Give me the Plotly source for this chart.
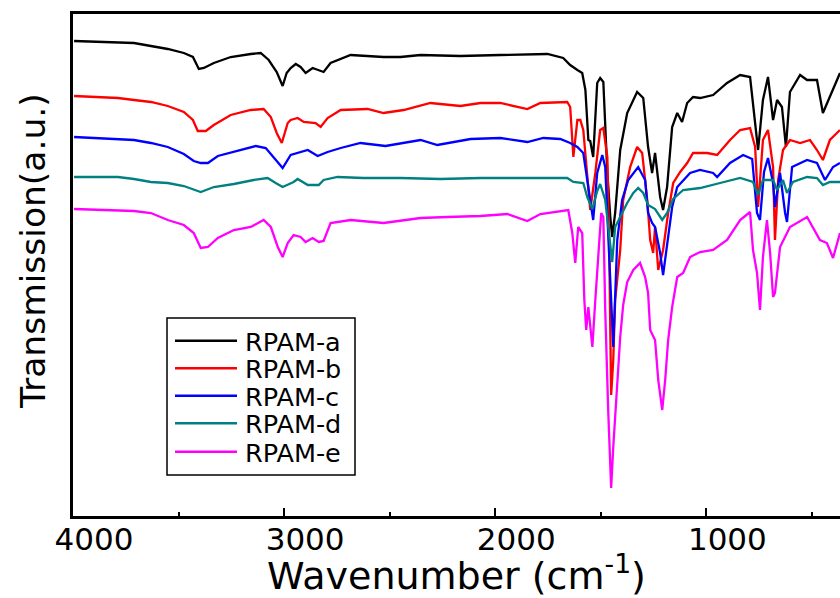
import plotly.graph_objects as go

# ---------------- data ----------------
series_names = ["RPAM-a", "RPAM-b", "RPAM-c", "RPAM-d", "RPAM-e"]
series_colors = ["#000000", "#FF0000", "#0000FF", "#008080", "#FF00FF"]

wn_a = [3995, 3868, 3787, 3711, 3631, 3551, 3475, 3432, 3404, 3380, 3333, 3253, 3158, 3111, 3073,
        3035, 3007, 2988, 2969, 2945, 2922, 2898, 2865, 2836, 2813, 2780, 2685, 2529, 2449, 2354,
        2165, 1976, 1753, 1678, 1645, 1611, 1588, 1573, 1559, 1550, 1536, 1517, 1503, 1488, 1469,
        1455, 1446, 1432, 1408, 1375, 1328, 1299, 1276, 1257, 1243, 1219, 1205, 1186, 1162, 1138,
        1115, 1091, 1063, 1030, 968, 902, 840, 793, 769, 755, 732, 708, 684, 665, 642, 623, 604,
        556, 523, 476, 448, 415, 367]
t_a = [476, 475, 474, 474, 471, 468, 464, 460, 448, 449, 454, 460, 463, 464, 457,
       445, 431, 444, 449, 453, 450, 444, 449, 447, 445, 454, 462, 460, 460, 462,
       461, 462, 463, 459, 452, 447, 444, 427, 377, 376, 360, 434, 439, 435, 344,
       300, 280, 304, 367, 404, 425, 419, 370, 344, 364, 320, 307, 330, 390, 404,
       395, 414, 420, 419, 422, 434, 442, 440, 394, 367, 417, 440, 397, 417, 410, 370, 425,
       442, 437, 437, 404, 420, 444]

wn_b = [3995, 3787, 3711, 3631, 3551, 3475, 3432, 3409, 3371, 3333, 3253, 3158, 3097, 3063, 3035,
        3011, 2983, 2969, 2936, 2907, 2851, 2827, 2794, 2732, 2605, 2529, 2434, 2307, 2165, 2070,
        1976, 1848, 1786, 1659, 1645, 1630, 1611, 1597, 1583, 1564, 1550, 1526, 1503, 1488, 1469,
        1460, 1451, 1441, 1432, 1408, 1394, 1361, 1328, 1304, 1280, 1266, 1252, 1243, 1228, 1205,
        1181, 1157, 1124, 1091, 1063, 996, 949, 888, 840, 793, 769, 755, 732, 708, 684, 675, 660,
        637, 604, 556, 509, 476, 448, 415, 367]
t_b = [421, 419, 417, 415, 411, 405, 397, 386, 386, 392, 402, 407, 408, 400, 384,
       374, 394, 397, 399, 395, 394, 390, 399, 407, 408, 404, 407, 414, 411, 414,
       414, 408, 414, 415, 410, 360, 397, 397, 387, 337, 307, 344, 387, 389, 360,
       267, 122, 157, 217, 267, 317, 350, 370, 364, 317, 277, 264, 290, 247, 267,
       304, 334, 345, 354, 364, 364, 362, 377, 387, 389, 370, 310, 377, 387, 350, 277, 337,
       367, 377, 374, 377, 367, 357, 377, 387]

wn_c = [3995, 3787, 3711, 3631, 3551, 3475, 3428, 3395, 3361, 3314, 3238, 3134, 3087, 3049, 3007,
        2969, 2922, 2888, 2841, 2794, 2732, 2638, 2520, 2354, 2274, 2117, 1976, 1848, 1772, 1692,
        1645, 1611, 1583, 1573, 1550, 1536, 1517, 1493, 1479, 1465, 1451, 1441, 1422, 1399, 1370,
        1323, 1290, 1276, 1257, 1243, 1219, 1205, 1186, 1162, 1138, 1077, 1030, 968, 949, 888,
        826, 783, 760, 746, 727, 708, 684, 675, 651, 627, 618, 594, 523, 476, 438, 400, 367]
t_c = [380, 378, 377, 374, 370, 363, 356, 354, 354, 361, 365, 371, 369, 360, 349,
       362, 365, 367, 361, 365, 369, 374, 371, 377, 372, 378, 379, 375, 379, 378,
       374, 370, 364, 350, 314, 297, 344, 362, 350, 290, 217, 170, 277, 317, 337,
       350, 337, 304, 294, 290, 264, 242, 270, 310, 330, 344, 347, 344, 340, 354,
       362, 358, 304, 297, 345, 359, 334, 310, 344, 304, 295, 350, 357, 354, 337, 350, 354]

wn_d = [3995, 3787, 3711, 3631, 3551, 3475, 3409, 3395, 3333, 3238, 3144, 3078, 3040, 3007, 2955,
        2936, 2888, 2836, 2813, 2747, 2624, 2449, 2259, 2070, 1881, 1659, 1630, 1583, 1564, 1540,
        1517, 1503, 1479, 1455, 1446, 1432, 1408, 1375, 1346, 1323, 1299, 1276, 1243, 1209, 1186,
        1157, 1110, 1030, 935, 840, 779, 755, 732, 684, 665, 637, 618, 590, 523, 476, 448, 415, 367]
t_d = [340, 340, 338, 335, 334, 331, 326, 325, 330, 333, 337, 339, 334, 330, 335,
       338, 332, 332, 337, 340, 339, 339, 338, 339, 339, 339, 335, 334, 320, 308,
       326, 333, 317, 270, 255, 290, 300, 314, 324, 329, 324, 312, 308, 297, 304,
       318, 327, 329, 334, 339, 335, 322, 337, 337, 327, 337, 324, 335, 340, 339, 332, 335, 335]

wn_e = [3995, 3787, 3711, 3631, 3551, 3475, 3428, 3395, 3361, 3314, 3238, 3158, 3097, 3063, 3030,
        3007, 2983, 2955, 2922, 2898, 2865, 2836, 2813, 2780, 2685, 2529, 2354, 2226, 2070, 1942,
        1848, 1786, 1654, 1635, 1621, 1607, 1588, 1578, 1569, 1559, 1540, 1526, 1512, 1498, 1488,
        1479, 1465, 1451, 1441, 1422, 1408, 1394, 1375, 1346, 1314, 1290, 1276, 1266, 1243, 1228,
        1209, 1195, 1181, 1162, 1138, 1110, 1077, 1030, 968, 902, 840, 793, 779, 760, 746, 732,
        713, 698, 684, 675, 660, 651, 604, 523, 462, 429, 400, 367]
t_e = [308, 307, 306, 304, 297, 292, 284, 269, 270, 279, 287, 290, 297, 290, 270,
       260, 274, 282, 280, 275, 279, 275, 276, 294, 297, 294, 299, 300, 301, 303,
       296, 303, 307, 284, 254, 290, 284, 217, 187, 210, 170, 217, 264, 304, 300,
       207, 107, 29, 70, 134, 180, 212, 235, 247, 254, 240, 224, 187, 177, 137,
       107, 137, 177, 210, 240, 244, 260, 265, 267, 277, 297, 305, 267, 244, 207, 260,
       297, 264, 220, 224, 257, 270, 290, 300, 277, 274, 259, 284]

x_tick_vals = [1000, 2000, 3000, 4000]
x_tick_text = ["1000", "2000", "3000", "4000"]
x_title = "Wavenumber (cm<sup>-1</sup>)"
y_title = "Transmission(a.u.)"

# ---------------- figure ----------------
xs = [wn_a, wn_b, wn_c, wn_d, wn_e]
ys = [t_a, t_b, t_c, t_d, t_e]

W, H = 840, 598
L, R, T, B = 73, 0, 14, 82
pw, ph = W - L - R, H - T - B


def px_x(px):
    return (px - L) / pw


def px_y(py):
    return (H - B - py) / ph


fig = go.Figure()
for name, color, x, y in zip(series_names, series_colors, xs, ys):
    fig.add_trace(go.Scatter(x=x, y=y, mode="lines", name=name, showlegend=False,
                             line=dict(color=color, width=2.3)))

# legend drawn as a framed box with line samples and labels
shapes = [dict(type="rect", xref="paper", yref="paper",
               x0=px_x(167), x1=px_x(355), y0=px_y(475), y1=px_y(318),
               line=dict(color="black", width=1.5), fillcolor="white", layer="above")]
annotations = []
leg_rows = [340.7, 368.3, 395.7, 423.3, 451.7]
for name, color, ry in zip(series_names, series_colors, leg_rows):
    shapes.append(dict(type="line", xref="paper", yref="paper",
                       x0=px_x(175), x1=px_x(237), y0=px_y(ry), y1=px_y(ry),
                       line=dict(color=color, width=2.5), layer="above"))
    annotations.append(dict(text=name, xref="paper", yref="paper",
                            x=px_x(243), y=px_y(ry + 1), xanchor="left", yanchor="middle",
                            showarrow=False,
                            font=dict(family="DejaVu Sans", size=25.5, color="black")))

# y-axis title
annotations.append(dict(text=y_title, xref="paper", yref="paper",
                        x=px_x(33), y=px_y(251), xanchor="center", yanchor="middle",
                        textangle=-90, showarrow=False,
                        font=dict(family="DejaVu Sans", size=34.5, color="black")))

fig.update_layout(
    width=W, height=H,
    margin=dict(l=L, r=R, t=T, b=B, pad=0, autoexpand=False),
    paper_bgcolor="white", plot_bgcolor="white",
    font=dict(family="DejaVu Sans", color="black"),
    showlegend=False,
    shapes=shapes, annotations=annotations,
)
fig.update_xaxes(
    range=[4000, 367], showgrid=False, zeroline=False, automargin=False,
    showline=True, linecolor="black", linewidth=2.5, mirror=True,
    ticks="inside", ticklen=8, tickwidth=2, tickcolor="black",
    tickvals=x_tick_vals, ticktext=x_tick_text, ticklabelshift=-21, ticklabelstandoff=-6,
    tickfont=dict(family="DejaVu Sans", size=31, color="black"),
    minor=dict(dtick=500, ticks="inside", ticklen=4, tickwidth=2, tickcolor="black"),
    title=dict(text=x_title, font=dict(family="DejaVu Sans", size=38, color="black"), standoff=1),
)
fig.update_yaxes(
    range=[1, 503], showgrid=False, zeroline=False, automargin=False,
    showline=True, linecolor="black", linewidth=2.5, mirror=False,
    ticks="", showticklabels=False,
)

fig.write_html(
    "out.html",
    config={"displayModeBar": False},
    post_script="document.body.style.margin='0px';document.body.style.overflow='hidden';",
)
